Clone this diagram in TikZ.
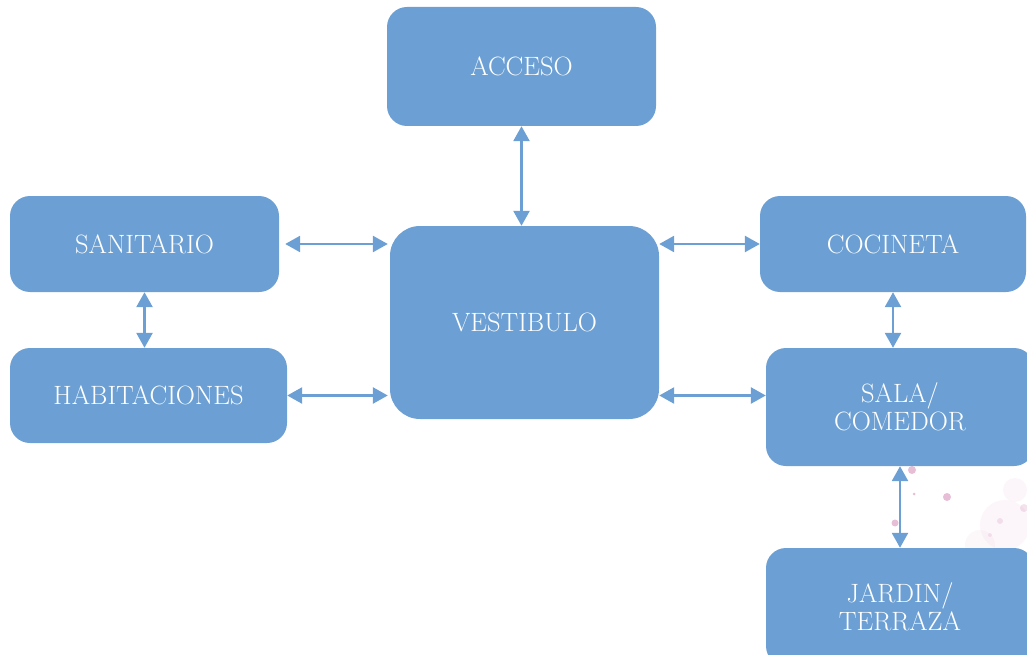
\documentclass[tikz,border=0pt]{standalone}
\usetikzlibrary{arrows.meta}
\definecolor{boxblue}{RGB}{108,160,212}
\definecolor{spot}{RGB}{200,110,165}
\begin{document}
\begin{tikzpicture}[x=1pt,y=-1pt,
  box/.style={fill=boxblue, rounded corners=20pt, text=white,
    font=\fontsize{26.5}{28}\selectfont, align=center, inner sep=0pt},
  link/.style={draw=boxblue, line width=2.6pt,
    {Triangle[length=15pt,width=16pt]}-{Triangle[length=15pt,width=16pt]}},
  dot/.style={fill=spot, opacity=0.45}]
\useasboundingbox (0,0) rectangle (1027,655);
\clip (0,0) rectangle (1027,655);
% faint watercolour spots
\fill[dot] (912,470) circle (4);
\fill[dot] (947,497) circle (4);
\fill[dot] (895,523) circle (3.5);
\fill[dot] (914,494) circle (1.5);
\fill[spot, opacity=0.06] (1005,525) circle (25);
\fill[spot, opacity=0.05] (980,545) circle (15);
\fill[spot, opacity=0.06] (1015,490) circle (12);
\fill[spot, opacity=0.2] (1024,508) circle (4);
\fill[spot, opacity=0.18] (1000,521) circle (3);
\fill[spot, opacity=0.15] (990,535) circle (2);
% boxes
\node[box, minimum width=269pt, minimum height=119pt] (acc) at (521.5,66.5) {ACCESO};
\node[box, rounded corners=30pt, minimum width=269pt, minimum height=193pt] (vest) at (524.5,322.5) {VESTIBULO};
\node[box, minimum width=269pt, minimum height=96pt] (san) at (144.5,244) {SANITARIO};
\node[box, minimum width=277pt, minimum height=95pt] (hab) at (148.5,395.5) {HABITACIONES};
\node[box, minimum width=266pt, minimum height=96pt] (coc) at (893,244) {COCINETA};
\node[box, minimum width=268pt, minimum height=118pt] (sala) at (900,407) {SALA/\\COMEDOR};
\node[box, minimum width=268pt, minimum height=118pt] (jar) at (900,607) {JARDIN/\\TERRAZA};
% connectors
\draw[link] (acc.south) -- (acc.south |- vest.north);
\draw[link] ([xshift=6pt]san.east) -- ([xshift=-2pt]san.east -| vest.west);
\draw[link] (hab.east) -- ([xshift=-2pt]hab.east -| vest.west);
\draw[link] (vest.east |- coc.west) -- (coc.west);
\draw[link] (vest.east |- hab.east) -- (hab.east -| sala.west);
\draw[link] (san.south) -- (san.south |- hab.north);
\draw[link] (coc.south) -- (coc.south |- sala.north);
\draw[link] (sala.south) -- (jar.north);
\end{tikzpicture}
\end{document}
